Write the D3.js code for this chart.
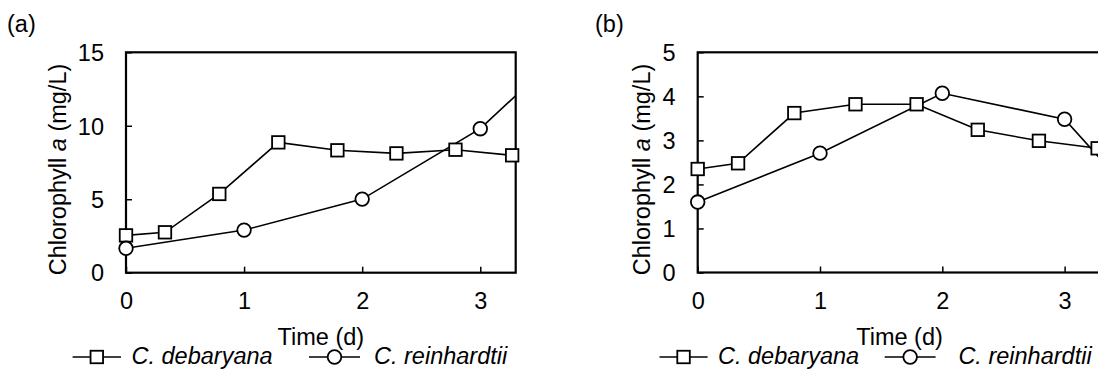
<!DOCTYPE html>
<html>
<head>
<meta charset="utf-8">
<script src="https://cdn.jsdelivr.net/npm/d3@7"></script>
<style>
  html, body { margin: 0; padding: 0; background: #fff; }
  svg { display: block; }
  text { font-family: "Liberation Sans", Arial, Helvetica, sans-serif; fill: #000; }
</style>
</head>
<body>
<svg id="chart" width="1098" height="369"></svg>
<script>
// ---- data ----
const timeDeb = [0, 0.33, 0.79, 1.29, 1.79, 2.29, 2.79, 3.27];
const timeRein = [0, 1, 2, 3, 4];
const debA = [2.54, 2.75, 5.36, 8.87, 8.33, 8.12, 8.37, 7.99];
const reinA = [1.66, 2.90, 5.01, 9.80, 17.3];
const debB = [2.35, 2.48, 3.62, 3.82, 3.82, 3.24, 2.99, 2.82];
const reinB = [1.60, 2.71, 4.07, 3.48, 0.40];
const xTicks = [0, 1, 2, 3];
const yTicksA = [0, 5, 10, 15];
const yTicksB = [0, 1, 2, 3, 4, 5];
const seriesNames = ["C. debaryana", "C. reinhardtii"];
const panelLabels = ["(a)", "(b)"];
const xTitle = "Time (d)";

const svg = d3.select("#chart");
const FS = 23.5;
const LW = 1.6;

function drawPanel(opt) {
  const { left, right, top, bottom, yMax, yTicks, deb, rein, label, id } = opt;
  const x = d3.scaleLinear().domain([0, 3.3]).range([left, right]);
  const y = d3.scaleLinear().domain([0, yMax]).range([bottom, top]);
  const g = svg.append("g");

  svg.append("clipPath").attr("id", "clip" + id)
    .append("rect").attr("x", left).attr("y", top)
    .attr("width", right - left).attr("height", bottom - top);

  const xAxis = d3.axisBottom(x).tickValues(xTicks).tickSize(-6).tickFormat(d3.format("d"));
  const yAxis = d3.axisLeft(y).tickValues(yTicks).tickSize(-6).tickFormat(d3.format("d")).tickPadding(22);

  const gx = g.append("g").attr("transform", `translate(0,${bottom})`).call(xAxis);
  gx.select(".domain").remove();
  gx.selectAll(".tick line").attr("stroke", "#000").attr("stroke-width", 1.5);
  gx.selectAll(".tick text").attr("font-size", FS).attr("dy", null).attr("y", 36)
    .style("font-family", '"Liberation Sans", Arial, sans-serif');

  const gy = g.append("g").attr("transform", `translate(${left},0)`).call(yAxis);
  gy.select(".domain").remove();
  gy.selectAll(".tick line").attr("stroke", "#000").attr("stroke-width", 1.5);
  gy.selectAll(".tick text").attr("font-size", FS).attr("dy", "0.35em")
    .style("font-family", '"Liberation Sans", Arial, sans-serif');

  g.append("rect").attr("x", left).attr("y", top)
    .attr("width", right - left).attr("height", bottom - top)
    .attr("fill", "none").attr("stroke", "#000").attr("stroke-width", 2.2);

  const line = d3.line().x(d => x(d[0])).y(d => y(d[1]));
  const debPts = timeDeb.map((t, i) => [t, deb[i]]);
  const reinPts = timeRein.map((t, i) => [t, rein[i]]);
  const lg = g.append("g").attr("clip-path", `url(#clip${id})`);
  lg.append("path").datum(debPts).attr("d", line)
    .attr("fill", "none").attr("stroke", "#000").attr("stroke-width", LW);
  lg.append("path").datum(reinPts).attr("d", line)
    .attr("fill", "none").attr("stroke", "#000").attr("stroke-width", LW);

  const S = 12.5;
  g.selectAll(".sq").data(debPts).enter().append("rect")
    .attr("x", d => x(d[0]) - S / 2).attr("y", d => y(d[1]) - S / 2)
    .attr("width", S).attr("height", S)
    .attr("fill", "#fff").attr("stroke", "#000").attr("stroke-width", 1.8);
  g.selectAll(".ci").data(reinPts.filter(d => d[0] <= 3.3)).enter().append("circle")
    .attr("cx", d => x(d[0])).attr("cy", d => y(d[1])).attr("r", 6.8)
    .attr("fill", "#fff").attr("stroke", "#000").attr("stroke-width", 1.8);

  const yt = g.append("text")
    .attr("transform", `translate(${opt.yTitleX},169.5) rotate(-90)`)
    .attr("text-anchor", "middle").attr("font-size", FS);
  yt.append("tspan").text("Chlorophyll ");
  yt.append("tspan").attr("font-style", "italic").text("a");
  yt.append("tspan").text(" (mg/L)");

  g.append("text").attr("x", (left + right) / 2).attr("y", 344.5)
    .attr("text-anchor", "middle").attr("font-size", FS).text(xTitle);

  g.append("text").attr("x", opt.labelX).attr("y", 32).attr("font-size", FS).text(label);

  const ly = 357;
  const L = opt.legend;
  g.append("line").attr("x1", L.l1[0]).attr("x2", L.l1[1]).attr("y1", ly).attr("y2", ly)
    .attr("stroke", "#000").attr("stroke-width", LW);
  const lsq = 12.5;
  const c1 = (L.l1[0] + L.l1[1]) / 2;
  g.append("rect").attr("x", c1 - lsq / 2).attr("y", ly - lsq / 2).attr("width", lsq).attr("height", lsq)
    .attr("fill", "#fff").attr("stroke", "#000").attr("stroke-width", 1.8);
  g.append("text").attr("x", L.t1).attr("y", 364).attr("font-size", FS)
    .attr("font-style", "italic").text(seriesNames[0]);
  g.append("line").attr("x1", L.l2[0]).attr("x2", L.l2[1]).attr("y1", ly).attr("y2", ly)
    .attr("stroke", "#000").attr("stroke-width", LW);
  const c2 = (L.l2[0] + L.l2[1]) / 2;
  g.append("circle").attr("cx", c2).attr("cy", ly).attr("r", 6.8)
    .attr("fill", "#fff").attr("stroke", "#000").attr("stroke-width", 1.8);
  g.append("text").attr("x", L.t2).attr("y", 364).attr("font-size", FS)
    .attr("font-style", "italic").text(seriesNames[1]);
}

drawPanel({
  id: "a", left: 126, right: 515.7, top: 52.3, bottom: 272.7,
  yMax: 15, yTicks: yTicksA, deb: debA, rein: reinA, label: panelLabels[0],
  yTitleX: 65.5, labelX: 7,
  legend: { l1: [72.6, 121], t1: 131.5, l2: [309, 360], t2: 374 }
});
drawPanel({
  id: "b", left: 697.7, right: 1101.3, top: 52.3, bottom: 272.5,
  yMax: 5, yTicks: yTicksB, deb: debB, rein: reinB, label: panelLabels[1],
  yTitleX: 650, labelX: 595,
  legend: { l1: [659.5, 707.6], t1: 718, l2: [884.7, 935.6], t2: 958.4 }
});
</script>
</body>
</html>
